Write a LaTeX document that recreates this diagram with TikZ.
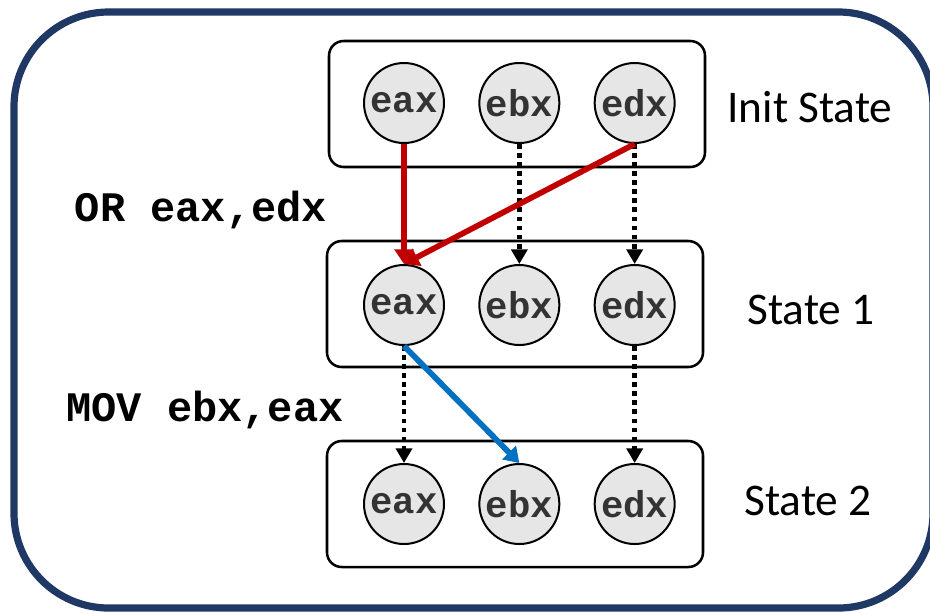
\documentclass[tikz,border=0pt]{standalone}
\usepackage{fontspec}
\setmainfont{Carlito}
\newfontfamily\codefont{Liberation Mono}
\usetikzlibrary{arrows.meta,positioning}

\definecolor{navy}{HTML}{203864}
\definecolor{regfill}{HTML}{E6E6E6}
\definecolor{regtext}{HTML}{333333}
\definecolor{flowred}{HTML}{C00000}
\definecolor{flowblue}{HTML}{0070C0}

\begin{document}
\begin{tikzpicture}[
  x=0.75pt, y=-0.75pt,
  node distance=25pt,
  state/.style={draw, line width=1.9pt, rounded corners=11pt, minimum width=282pt, minimum height=94.5pt},
  reg/.style={draw, circle, line width=1.5pt, fill=regfill, minimum size=60pt, inner sep=0pt,
              text=regtext, font=\codefont\bfseries\fontsize{28}{28}\selectfont},
  lbl/.style={font=\fontsize{34}{34}\selectfont, inner sep=0pt},
  code/.style={font=\codefont\bfseries\fontsize{31.5}{31.5}\selectfont, inner sep=0pt},
  keep/.style={line width=3.6pt, dash pattern=on 3.6pt off 3.2pt, -{Triangle[length=11pt,width=12pt]}},
  flow/.style={line width=4.3pt, -{Triangle[length=11pt,width=14pt]}}]

\useasboundingbox (0,0) rectangle (930,612);
\draw[navy, line width=5.4pt, rounded corners=71pt] (14,12) rectangle (933,608);

% states
\node[state] (s0) at (517,104) {};
\node[state] (s1) at (515,304) {};
\node[state] (s2) at (515,504) {};

\node[lbl] (t0) at (810,107) {Init State};
\node[lbl] (t1) at (811,310) {State 1};
\node[lbl] (t2) at (808,501) {State 2};

% registers
\node[reg] (a0) at (404,103) {eax};
\node[reg, right=of a0] (b0) {ebx};
\node[reg, right=of b0] (d0) {edx};

\node[reg] (a1) at (404,305) {eax};
\node[reg, right=of a1] (b1) {ebx};
\node[reg, right=of b1] (d1) {edx};

\node[reg] (a2) at (404,504) {eax};
\node[reg, right=of a2] (b2) {ebx};
\node[reg, right=of b2] (d2) {edx};

% instructions
\node[code] (i1) at (201,210) {OR eax,edx};
\node[code] (i2) at (205,410) {MOV ebx,eax};

% unchanged values
\draw[keep] (b0) -- (b1);
\draw[keep] (d0) -- (d1);
\draw[keep] (a1) -- (a2);
\draw[keep] (d1) -- (d2);

% data flow
\draw[flow, flowred] (a0) -- (a1);
\draw[flow, flowred] (d0.south) -- (a1.north);
\draw[flow, flowblue] (a1.south) -- (b2.north);

\end{tikzpicture}
\end{document}
